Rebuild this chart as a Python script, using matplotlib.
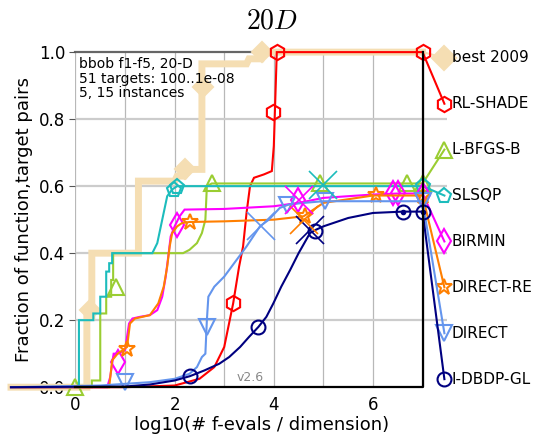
import numpy as np
import matplotlib
matplotlib.use("Agg")
import matplotlib.pyplot as plt

plt.rcParams["mathtext.fontset"] = "cm"

# ECDF curves, x = log10(# f-evals / dimension), y = fraction of (function, target) pairs
names = ["best 2009", "RL-SHADE", "L-BFGS-B", "SLSQP", "BIRMIN", "DIRECT-RE", "DIRECT", "I-DBDP-GL"]

best_x = [-1.3, 0.23, 0.23, 0.33, 0.33, 1.27, 1.27, 2.0, 2.05, 2.2, 2.3, 2.55, 2.55, 3.45, 3.5, 3.75, 3.8, 7.0]
best_y = [0.0, 0.0, 0.21, 0.21, 0.40, 0.40, 0.615, 0.615, 0.63, 0.63, 0.65, 0.65, 0.965, 0.965, 0.98, 0.98, 1.0, 1.0]

shade_x = [-1.3, 1.0, 2.0, 2.5, 2.8, 3.0, 3.18, 3.3, 3.38, 3.45, 3.52, 3.6, 3.8, 3.96, 4.0, 4.03, 4.06, 7.0]
shade_y = [0.0, 0.0, 0.005, 0.025, 0.06, 0.12, 0.25, 0.36, 0.42, 0.52, 0.6, 0.625, 0.635, 0.645, 0.72, 0.86, 1.0, 1.0]

lbfgs_x = [-1.3, 0.33, 0.33, 0.5, 0.5, 0.62, 0.62, 0.72, 0.72, 0.76, 0.76, 2.17, 2.3, 2.45, 2.55, 2.62, 2.65, 2.75, 7.0]
lbfgs_y = [0.0, 0.0, 0.02, 0.02, 0.22, 0.22, 0.27, 0.27, 0.32, 0.32, 0.40, 0.40, 0.41, 0.43, 0.46, 0.50, 0.60, 0.608, 0.608]

slsqp_x = [-1.3, 0.07, 0.07, 0.36, 0.36, 0.5, 0.5, 0.62, 0.62, 0.68, 0.68, 0.74, 0.74, 1.55, 1.65, 1.75, 1.85, 1.95, 2.05, 7.0]
slsqp_y = [0.0, 0.0, 0.20, 0.20, 0.22, 0.22, 0.27, 0.27, 0.345, 0.345, 0.37, 0.37, 0.40, 0.40, 0.43, 0.50, 0.57, 0.59, 0.60, 0.60]

birmin_x = [-1.3, 0.64, 0.7, 0.77, 0.85, 1.0, 1.08, 1.15, 1.3, 1.5, 1.65, 1.75, 1.82, 1.88, 1.92, 2.0, 2.1, 2.2, 3.0, 4.0, 4.5, 5.0, 6.0, 6.5, 7.0]
birmin_y = [0.0, 0.0, 0.03, 0.1, 0.1, 0.11, 0.19, 0.205, 0.21, 0.215, 0.23, 0.27, 0.33, 0.40, 0.45, 0.48, 0.51, 0.53, 0.532, 0.54, 0.55, 0.565, 0.575, 0.578, 0.578]

dire_x = [-1.3, 0.68, 0.74, 0.85, 1.04, 1.1, 1.2, 1.5, 1.67, 1.78, 1.85, 1.9, 1.95, 2.05, 2.15, 2.3, 3.0, 4.0, 4.6, 5.0, 6.0, 7.0]
dire_y = [0.0, 0.0, 0.08, 0.1, 0.12, 0.19, 0.205, 0.215, 0.25, 0.30, 0.36, 0.42, 0.46, 0.48, 0.49, 0.493, 0.495, 0.50, 0.51, 0.55, 0.572, 0.572]

direct_x = [-1.3, 0.5, 1.0, 1.5, 2.0, 2.3, 2.45, 2.55, 2.62, 2.65, 2.68, 2.8, 3.0, 3.2, 3.45, 3.72, 3.9, 4.12, 4.3, 4.6, 5.0, 7.0]
direct_y = [0.0, 0.005, 0.01, 0.015, 0.025, 0.04, 0.06, 0.09, 0.1, 0.2, 0.27, 0.30, 0.33, 0.37, 0.42, 0.48, 0.50, 0.535, 0.545, 0.55, 0.555, 0.555]

dbdp_x = [-1.3, 1.0, 1.5, 2.0, 2.31, 2.6, 2.9, 3.1, 3.32, 3.5, 3.69, 3.85, 3.99, 4.15, 4.33, 4.5, 4.73, 4.85, 5.0, 5.5, 6.0, 6.6, 7.0]
dbdp_y = [0.0, 0.002, 0.008, 0.02, 0.033, 0.05, 0.07, 0.09, 0.12, 0.15, 0.18, 0.21, 0.25, 0.30, 0.35, 0.40, 0.46, 0.47, 0.48, 0.505, 0.52, 0.524, 0.524]

# marker positions along each curve
best_mx = [0.29, 2.2, 2.58, 3.77]
best_my = [0.23, 0.65, 0.896, 1.0]
shade_mx = [3.18, 3.98, 4.06, 7.0]
shade_my = [0.25, 0.82, 1.0, 1.0]
lbfgs_mx = [0.0, 0.82, 2.75, 4.93, 6.68, 7.0]
lbfgs_my = [0.0, 0.30, 0.608, 0.608, 0.608, 0.608]
slsqp_mx = [1.98, 2.04, 7.0]
slsqp_my = [0.59, 0.598, 0.60]
birmin_mx = [0.85, 2.05, 4.49, 6.4, 6.5, 7.0]
birmin_my = [0.075, 0.485, 0.56, 0.58, 0.58, 0.575]
dire_mx = [1.04, 2.31, 4.62, 6.07, 7.0]
dire_my = [0.115, 0.494, 0.51, 0.575, 0.572]
direct_mx = [1.0, 2.65, 4.27, 5.03, 7.0]
direct_my = [0.015, 0.18, 0.545, 0.555, 0.555]
dbdp_mx = [2.31, 3.69, 4.83, 6.6, 7.0]
dbdp_my = [0.033, 0.18, 0.465, 0.524, 0.524]

# crosses at the maximum number of evaluations
cross_x = [4.99, 3.75, 4.73, 4.6, 4.5]
cross_y = [0.604, 0.48, 0.47, 0.50, 0.56]
cross_c = ["#1cbcbc", "#6495ed", "#000080", "#ff7f00", "#ff00ff"]

curves = [
    (best_x, best_y, best_mx, best_my, "wheat", "D", 5.0, 10),
    (shade_x, shade_y, shade_mx, shade_my, "#ff0000", "h", 1.5, 11),
    (lbfgs_x, lbfgs_y, lbfgs_mx, lbfgs_my, "#9acd32", "^", 1.5, 11),
    (slsqp_x, slsqp_y, slsqp_mx, slsqp_my, "#1cbcbc", "p", 1.5, 11),
    (birmin_x, birmin_y, birmin_mx, birmin_my, "#ff00ff", "d", 1.5, 12),
    (dire_x, dire_y, dire_mx, dire_my, "#ff7f00", "*", 1.5, 12),
    (direct_x, direct_y, direct_mx, direct_my, "#6495ed", "v", 1.5, 11),
    (dbdp_x, dbdp_y, dbdp_mx, dbdp_my, "#000080", "o", 1.5, 10),
]

fig = plt.figure(figsize=(5.39, 4.38), dpi=100)
ax = fig.add_axes([0.140, 0.116, 0.690, 0.765])
ax.set_xlim(0, 7.5)
ax.set_ylim(0, 1)
for s in ax.spines.values():
    s.set_visible(False)

ax.set_xticks(range(8))
ax.set_xticklabels(["0", "", "2", "", "4", "", "6", ""])
ax.set_yticks(np.arange(0, 1.01, 0.2))
ax.set_yticklabels(["0.0", "0.2", "0.4", "0.6", "0.8", "1.0"])
ax.tick_params(axis="both", labelsize=12)
ax.tick_params(axis="x", length=0, pad=6)
ax.tick_params(axis="y", length=4, color="#555555")
for v in range(8):
    ax.axvline(v, color="#b8b8b8", lw=0.9, zorder=0)
for v in np.arange(0.2, 1.0, 0.2):
    ax.axhline(v, color="#cccccc", lw=1.6, zorder=0)

# frame of the budget region
ax.plot([0, 7], [1, 1], color="#666666", lw=1.6, zorder=1, clip_on=False)
ax.plot([0, 7, 7], [0, 0, 1], color="k", lw=1.6, zorder=5, clip_on=False)

leg_x = 7.44
leg_y = np.linspace(0.983, 0.024, len(names))

for i, (x, y, mx, my, c, m, lw, ms) in enumerate(curves):
    z = 2 if i == 0 else 3 + i * 0.1
    ax.plot(x, y, color=c, lw=lw, zorder=z, clip_on=False, solid_joinstyle="miter")
    mfc = c if i == 0 else "none"
    ax.plot(mx, my, ls="none", marker=m, ms=ms, mfc=mfc, mec=c, mew=1.5, zorder=z, clip_on=False)
    ax.plot([x[-1], leg_x], [y[-1], leg_y[i]], color=c, lw=lw if i else 1.5, zorder=z, clip_on=False)
    ax.plot([leg_x], [leg_y[i]], ls="none", marker=m, ms=ms + (2 if i == 0 else 0), mfc=mfc, mec=c, mew=1.5,
            zorder=z, clip_on=False)
    ax.text(leg_x + 0.15, leg_y[i], names[i], fontsize=11, va="center", ha="left", clip_on=False)

# dots inside the last two I-DBDP-GL circles
ax.plot(dbdp_mx[-2:], dbdp_my[-2:], ls="none", marker="o", ms=3, color="#000080", zorder=4, clip_on=False)

for cx, cy, cc in zip(cross_x, cross_y, cross_c):
    ax.plot([cx], [cy], ls="none", marker="x", ms=20, mew=1.2, color=cc, zorder=4, clip_on=False)

ax.text(0.01, 0.985, "bbob f1-f5, 20-D\n51 targets: 100..1e-08\n5, 15 instances",
        transform=ax.transAxes, fontsize=10, va="top", ha="left", linespacing=1.05)
ax.text(3.26, 0.03, "v2.6", fontsize=9, color="#888888", va="center", ha="left")

ax.set_xlabel("log10(# f-evals / dimension)", fontsize=13, labelpad=2)
ax.set_ylabel("Fraction of function,target pairs", fontsize=13, labelpad=4)
fig.text(0.505, 0.953, "$20D$", fontsize=20, ha="center", va="center")

fig.savefig("out.png", dpi=100)
